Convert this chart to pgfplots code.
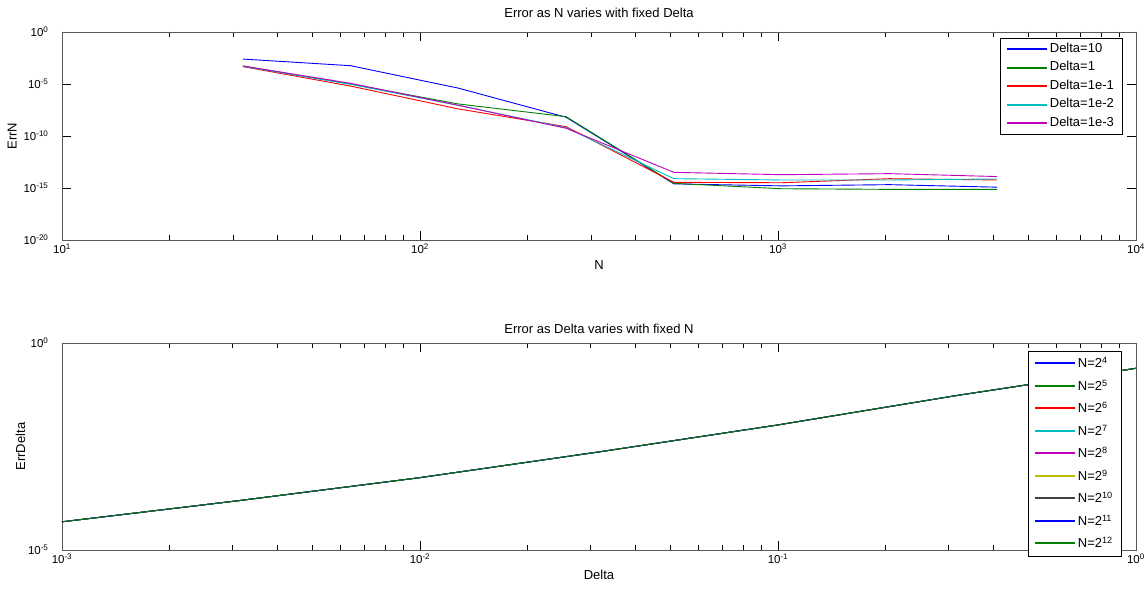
\documentclass[border=0pt]{standalone}
\usepackage{pgfplots}
\pgfplotsset{compat=1.18}
\usepackage{fontspec}
\setmainfont{Liberation Sans}
\definecolor{mblue}{rgb}{0,0,1}
\definecolor{mgreen}{rgb}{0,0.5,0}
\definecolor{mred}{rgb}{1,0,0}
\definecolor{mcyan}{rgb}{0,0.75,0.75}
\definecolor{mmag}{rgb}{0.75,0,0.75}
\definecolor{myel}{rgb}{0.75,0.75,0}
\definecolor{mblack}{rgb}{0.25,0.25,0.25}
\pgfplotsset{
  mstyle/.style={
    scale only axis, width=1074pt,
    axis line style={black!65, line width=0.8pt},
    tick style={black, line width=0.6pt},
    tick align=inside,
    major tick length=9pt, minor tick length=5pt,
    log basis x=10, log basis y=10,
    xticklabel={10\textsuperscript{\pgfmathparse{int(round(\tick))}\pgfmathresult}},
    yticklabel={10\textsuperscript{\pgfmathparse{int(round(\tick))}\pgfmathresult}},
    tick label style={font=\fontsize{11.5}{13}\selectfont},
    yticklabel style={xshift=-10pt},
    label style={font=\fontsize{13}{15}\selectfont},
    title style={font=\fontsize{13}{15}\selectfont},
    legend cell align=left,
    legend style={font=\fontsize{13}{15}\selectfont, draw=black,
      inner xsep=6pt, inner ysep=3pt},
    legend image code/.code={\draw[#1, line width=1.8pt] plot coordinates {(0pt,0pt) (20pt,0pt) (40pt,0pt)};},
    every axis plot/.append style={line width=0.9pt},
    yminorticks=false,
  }
}
\begin{document}
\begin{tikzpicture}
\path[use as bounding box] (0,0) rectangle (1145pt,595pt);
\begin{loglogaxis}[mstyle,
  at={(62pt,355pt)}, anchor=south west, height=208pt,
  xmin=10, xmax=1e4, ymin=1e-20, ymax=1,
  ytick={1e-20,1e-15,1e-10,1e-5,1},
  title={Error as N varies with fixed Delta},
  title style={yshift=5pt},
  xlabel={N}, ylabel={ErrN},
  legend style={at={(0.987,0.971)}, anchor=north east,
    nodes={text height=9pt, text depth=3pt, inner sep=2pt}, row sep=2.5pt},
]
\addplot[color=mblue] coordinates {(32,2.5e-3) (64,5.75e-4) (128,4.0e-6) (256,6.3e-9) (512,2.5e-15) (1024,1.6e-15) (2048,2.1e-15) (4096,1.2e-15)};
\addplot[color=mgreen] coordinates {(32,5.4e-4) (64,1.0e-5) (128,1.2e-7) (256,7.2e-9) (512,2.8e-15) (1024,8.5e-16) (2048,7.4e-16) (4096,7.4e-16)};
\addplot[color=mred] coordinates {(32,4.7e-4) (64,6.3e-6) (128,4.0e-8) (256,7.9e-10) (512,3.5e-15) (1024,3.2e-15) (2048,7.9e-15) (4096,5.9e-15)};
\addplot[color=mcyan] coordinates {(32,5.0e-4) (64,9.3e-6) (128,8.9e-8) (256,6.3e-10) (512,7.9e-15) (1024,5.9e-15) (2048,5.9e-15) (4096,7.4e-15)};
\addplot[color=mmag] coordinates {(32,5.4e-4) (64,1.17e-5) (128,8.9e-8) (256,5.5e-10) (512,3.2e-14) (1024,1.9e-14) (2048,2.4e-14) (4096,1.26e-14)};
\legend{Delta=10,Delta=1,Delta=1e-1,Delta=1e-2,Delta=1e-3}
\end{loglogaxis}
\begin{loglogaxis}[mstyle,
  at={(62pt,45pt)}, anchor=south west, height=207pt,
  xmin=1e-3, xmax=1, ymin=1e-5, ymax=1,
  ytick={1e-5,1},
  title={Error as Delta varies with fixed N},
  title style={yshift=0pt},
  xlabel={Delta}, ylabel={ErrDelta},
  ylabel style={yshift=-4pt},
  legend style={at={(0.986,0.963)}, anchor=north east,
    nodes={text height=12pt, text depth=3pt, inner sep=2pt}, row sep=3.5pt},
]
\pgfplotstableread{
x y
0.001 4.8e-5
0.00316 1.58e-4
0.01 5.6e-4
0.0316 2.34e-3
0.1 1.05e-2
0.316 5.4e-2
1 0.245
}\errdelta
\addplot[color=mblue] table {\errdelta};
\addplot[color=mgreen] table {\errdelta};
\addplot[color=mred] table {\errdelta};
\addplot[color=mcyan] table {\errdelta};
\addplot[color=mmag] table {\errdelta};
\addplot[color=myel] table {\errdelta};
\addplot[color=mblack] table {\errdelta};
\addplot[color=mblue] table {\errdelta};
\addplot[color=mgreen] table {\errdelta};
\legend{N=2\textsuperscript{4},N=2\textsuperscript{5},N=2\textsuperscript{6},N=2\textsuperscript{7},N=2\textsuperscript{8},N=2\textsuperscript{9},N=2\textsuperscript{10},N=2\textsuperscript{11},N=2\textsuperscript{12}}
\end{loglogaxis}
\end{tikzpicture}
\end{document}
